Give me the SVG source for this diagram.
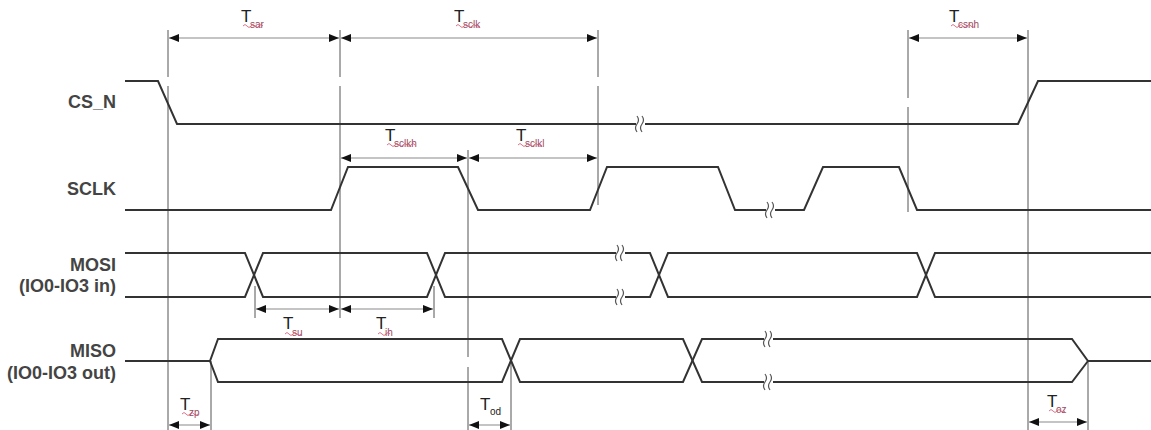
<svg xmlns="http://www.w3.org/2000/svg" xmlns:xlink="http://www.w3.org/1999/xlink" width="1151" height="430" viewBox="0 0 1151 430">
<style>
.sig{fill:none;stroke:#333;stroke-width:2;stroke-linejoin:miter}
.ref{fill:none;stroke:#555;stroke-width:1}
.dim{fill:none;stroke:#c4c4c4;stroke-width:2;marker-start:url(#ah);marker-end:url(#ah)}
.lbl{font-family:"Liberation Sans",Arial,sans-serif;font-size:18px;font-weight:bold;fill:#444;text-anchor:end}
.t{font-family:"Liberation Sans",Arial,sans-serif;font-size:17px;fill:#222}
.sub{font-family:"Liberation Sans",Arial,sans-serif;font-size:10px;fill:#9a4a5e}
.sq{fill:none;stroke:#d05070;stroke-width:0.8}
.brk{fill:none;stroke:#555;stroke-width:1.2}
</style>
<defs>
<marker id="ah" viewBox="0 0 10 8" refX="10" refY="4" markerWidth="10" markerHeight="8" markerUnits="userSpaceOnUse" orient="auto-start-reverse">
<path d="M0,0 L10,4 L0,8 z" fill="#111"/>
</marker>
<g id="brk">
<rect x="-4" y="-3" width="9" height="6" fill="#fff"/>
<path class="brk" d="M-3,-8 q3,4 0,8 t0,8"/>
<path class="brk" d="M2,-8 q3,4 0,8 t0,8"/>
</g>
</defs>
<rect width="1151" height="430" fill="#fff"/>

<g id="reference-lines">
<path class="ref" d="M168,30 V77 M168,86 V430"/>
<path class="ref" d="M340,30 V77 M340,86 V318"/>
<path class="ref" d="M598,30 V77 M598,86 V205"/>
<path class="ref" d="M908,30 V98 M908,107 V212"/>
<path class="ref" d="M1028,30 V430"/>
<path class="ref" d="M468,150 V357 M468,367 V430"/>
<path class="ref" d="M511,361 V430"/>
<path class="ref" d="M211,361 V430"/>
<path class="ref" d="M255,286 V318"/>
<path class="ref" d="M434,286 V318"/>
<path class="ref" d="M1088,361 V430"/>
</g>

<g id="labels">
<text class="lbl" x="116" y="108">CS_N</text>
<text class="lbl" x="116" y="195">SCLK</text>
<text class="lbl" x="116" y="271">MOSI</text>
<text class="lbl" x="116" y="292">(IO0-IO3 in)</text>
<text class="lbl" x="116" y="357">MISO</text>
<text class="lbl" x="116" y="379">(IO0-IO3 out)</text>
</g>

<g id="cs_n">
<path class="sig" d="M125,81 H158 L177,124 H1018 L1038,81 H1151"/>
<use xlink:href="#brk" x="640" y="124"/>
</g>

<g id="sclk">
<path class="sig" d="M125,210 H331 L348,167 H458 L478,210 H590 L607,167 H718 L735,210 H804 L823,167 H899 L917,210 H1151"/>
<use xlink:href="#brk" x="770" y="210"/>
</g>

<g id="mosi">
<path class="sig" d="M125,253 H245 L263,297 H427 L445,253 H650 L668,297 H917 L935,253 H1151"/>
<path class="sig" d="M125,297 H245 L263,253 H427 L445,297 H650 L668,253 H917 L935,297 H1151"/>
<use xlink:href="#brk" x="620" y="253"/>
<use xlink:href="#brk" x="620" y="297"/>
</g>

<g id="miso">
<path class="sig" d="M125,361 H210 L218,339 H502 L520,382 H683 L702,339 H1072 L1088,361 H1151"/>
<path class="sig" d="M210,361 L218,382 H502 L520,339 H683 L702,382 H1072 L1088,361"/>
<use xlink:href="#brk" x="768" y="339"/>
<use xlink:href="#brk" x="768" y="382"/>
</g>

<g id="connectors">
<line class="dim" x1="169" y1="38" x2="339" y2="38"/>
<line class="dim" x1="341" y1="38" x2="597" y2="38"/>
<line class="dim" x1="909" y1="38" x2="1027" y2="38"/>
<line class="dim" x1="341" y1="158" x2="467" y2="158"/>
<line class="dim" x1="469" y1="158" x2="597" y2="158"/>
<line class="dim" x1="256" y1="309" x2="339" y2="309"/>
<line class="dim" x1="341" y1="309" x2="433" y2="309"/>
<line class="dim" x1="169" y1="425" x2="210" y2="425"/>
<line class="dim" x1="469" y1="425" x2="510" y2="425"/>
<line class="dim" x1="1029" y1="422" x2="1087" y2="422"/>
</g>

<g id="timing-labels">
<g id="t-sar"><text class="t" x="241" y="22">T</text><text class="sub" x="250" y="28">sar</text><path class="sq" d="M243,26 q2,-3 4,0 t4,0 t4,0 t4,0 t4,0"/></g>
<g id="t-sclk"><text class="t" x="454" y="22">T</text><text class="sub" x="463" y="28">sclk</text><path class="sq" d="M456,26 q2,-3 4,0 t4,0 t4,0 t4,0 t4,0 t4,0"/></g>
<g id="t-csnh"><text class="t" x="949" y="22">T</text><text class="sub" x="958" y="28">csnh</text><path class="sq" d="M951,26 q2,-3 4,0 t4,0 t4,0 t4,0 t4,0 t4,0"/></g>
<g id="t-sclkh"><text class="t" x="385" y="141">T</text><text class="sub" x="394" y="147">sclkh</text><path class="sq" d="M387,145 q2,-3 4,0 t4,0 t4,0 t4,0 t4,0 t4,0 t4,0"/></g>
<g id="t-sclkl"><text class="t" x="516" y="141">T</text><text class="sub" x="525" y="147">sclkl</text><path class="sq" d="M518,145 q2,-3 4,0 t4,0 t4,0 t4,0 t4,0 t4,0"/></g>
<g id="t-su"><text class="t" x="283" y="329">T</text><text class="sub" x="292" y="336">su</text><path class="sq" d="M285,334 q2,-3 4,0 t4,0 t4,0 t4,0"/></g>
<g id="t-h"><text class="t" x="376" y="329">T</text><text class="sub" x="385" y="336">ih</text><path class="sq" d="M378,334 q2,-3 4,0 t4,0 t4,0"/></g>
<g id="t-zp"><text class="t" x="180" y="410">T</text><text class="sub" x="189" y="416">zp</text><path class="sq" d="M182,414 q2,-3 4,0 t4,0 t4,0 t4,0"/></g>
<g id="t-od"><text class="t" x="480" y="410">T</text><text class="sub" x="490" y="415" style="fill:#222">od</text></g>
<g id="t-oz"><text class="t" x="1047" y="407">T</text><text class="sub" x="1056" y="413">oz</text><path class="sq" d="M1049,411 q2,-3 4,0 t4,0 t4,0 t4,0"/></g>
</g>
</svg>
